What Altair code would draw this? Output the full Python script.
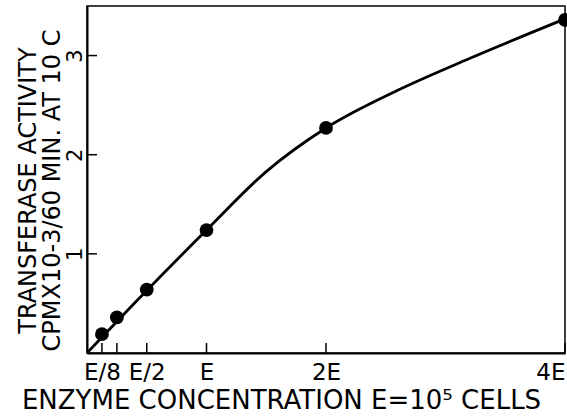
import altair as alt
import pandas as pd

# Measured points (x in units of E, y in CPM x 10^-3 / 60 min)
point_x = [0.125, 0.25, 0.5, 1.0, 2.0, 4.0]
point_y = [0.19, 0.36, 0.64, 1.24, 2.27, 3.36]

# Hand-drawn curve
curve_x = [0, 0.5, 1.0, 1.5, 2.0, 2.6, 3.2, 4.0]
curve_y = [0, 0.63, 1.24, 1.83, 2.27, 2.65, 2.97, 3.37]

x_tick_values = [0.125, 0.25, 0.5, 1, 2, 4]
x_tick_labels = ["E/8", "", "E/2", "E", "2E", "4E"]
y_tick_values = [1, 2, 3]

FONT = "DejaVu Sans"

pts = pd.DataFrame({"x": point_x, "y": point_y})
crv = pd.DataFrame({"x": curve_x, "y": curve_y})
xt = pd.DataFrame({"v": x_tick_values})
yt = pd.DataFrame({"v": y_tick_values})

label_expr = " : ".join(
    f"datum.value == {v} ? '{l}'" for v, l in zip(x_tick_values, x_tick_labels)
) + " : ''"

x_scale = alt.Scale(domain=[0, 4], nice=False, zero=True)
y_scale = alt.Scale(domain=[0, 3.5], nice=False, zero=True)

x_axis = alt.Axis(
    values=x_tick_values, labelExpr=label_expr, ticks=False, grid=False,
    labelFont=FONT, labelFontSize=23, labelColor="black", labelPadding=8,
    labelFlush=True, labelOverlap=False,
    title="ENZYME CONCENTRATION E=10\u2075 CELLS",
    titleFont=FONT, titleFontSize=26, titleFontWeight="normal", titleColor="black",
    titlePadding=3, titleX=194, titleAnchor="start", titleAlign="center",
    domainColor="black", domainWidth=2,
)
y_axis = alt.Axis(
    values=y_tick_values, ticks=False, grid=False, format="d",
    labelFont=FONT, labelFontSize=21, labelColor="black", labelPadding=2,
    labelAngle=-90, labelAlign="center", labelBaseline="bottom",
    title=["TRANSFERASE ACTIVITY", "CPMX10-3/60 MIN. AT 10 C"],
    titleFont=FONT, titleFontSize=24, titleFontWeight="normal", titleColor="black",
    titlePadding=0, titleLineHeight=24, titleY=184,
    domainColor="black", domainWidth=2,
)

line = alt.Chart(crv).mark_line(color="black", strokeWidth=2.8, interpolate="monotone").encode(
    x=alt.X("x:Q", scale=x_scale, axis=x_axis),
    y=alt.Y("y:Q", scale=y_scale, axis=y_axis),
)
dots = alt.Chart(pts).mark_circle(color="black", opacity=1, size=190).encode(
    x=alt.X("x:Q", scale=x_scale, axis=x_axis),
    y=alt.Y("y:Q", scale=y_scale, axis=y_axis),
)
xticks = alt.Chart(xt).mark_rule(color="black", strokeWidth=1.5, y2Offset=-10).encode(
    x=alt.X("v:Q", scale=x_scale, axis=x_axis),
    y=alt.datum(0, scale=y_scale, axis=y_axis),
    y2=alt.datum(0),
)
yticks = alt.Chart(yt).mark_rule(color="black", strokeWidth=1.5, x2Offset=10).encode(
    y=alt.Y("v:Q", scale=y_scale, axis=y_axis),
    x=alt.datum(0, scale=x_scale, axis=x_axis),
    x2=alt.datum(0),
)

chart = alt.layer(line, dots, xticks, yticks).properties(
    width=478, height=347,
    padding={"left": 87, "top": 6, "right": 2, "bottom": 64},
    autosize="none",
    background="white",
).configure_view(stroke="black", strokeWidth=1.5)

chart.save("out.html", embed_options={"renderer": "svg", "actions": False})
